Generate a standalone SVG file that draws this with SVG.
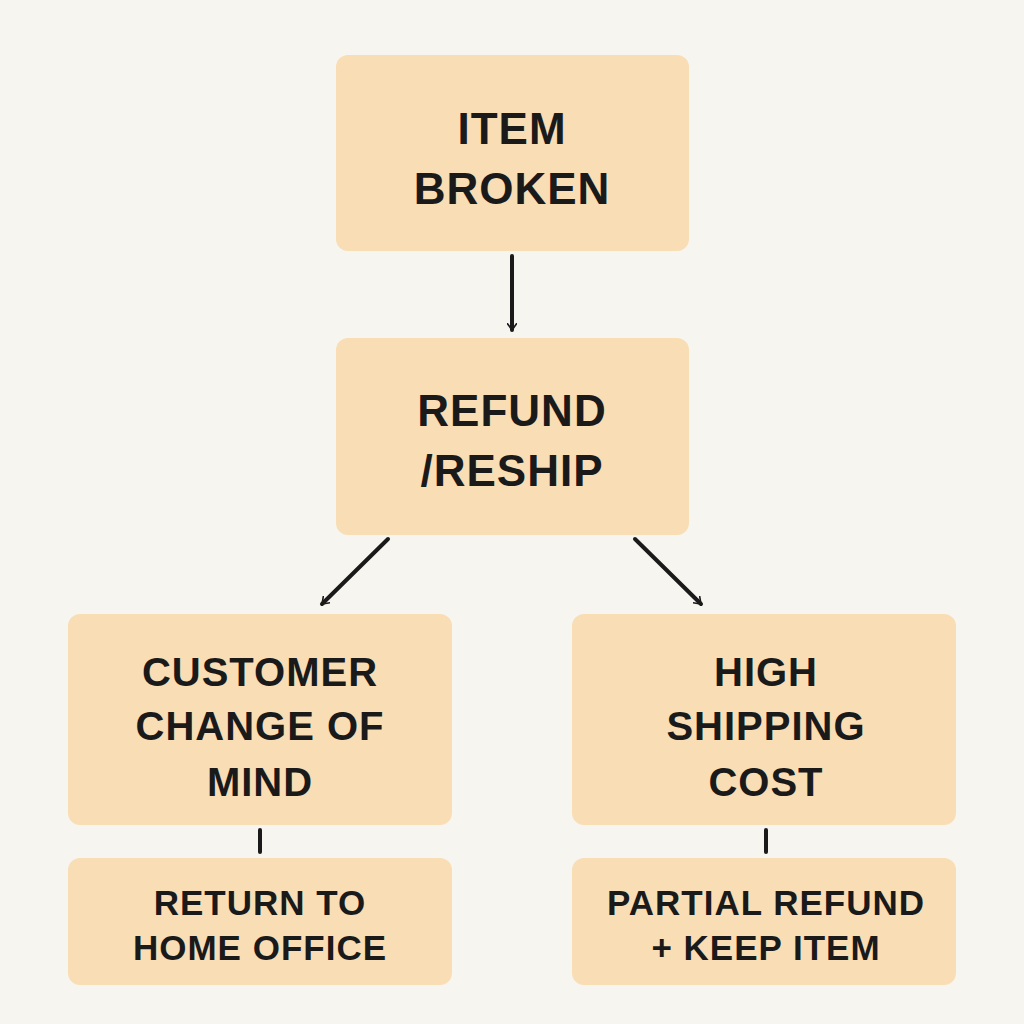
<svg xmlns="http://www.w3.org/2000/svg" width="1024" height="1024" viewBox="0 0 1024 1024">
<style>
.n{fill:#F9DDB4;}
.t{font-family:"Liberation Sans",Arial,sans-serif;font-weight:bold;fill:#1a1a1a;text-anchor:middle;letter-spacing:1px}
.big{font-size:44px}
.mid{font-size:40px}
.sm{font-size:35px}
.c{stroke:#1a1a1a;stroke-width:4;fill:none;stroke-linecap:round}
</style>
<defs><marker id="a" markerWidth="10" markerHeight="10" refX="7" refY="5" orient="auto" markerUnits="userSpaceOnUse" viewBox="0 0 10 10"><path d="M0,0 L7,5 L0,10" fill="none" stroke="#1a1a1a" stroke-width="1.6"/></marker></defs>
<rect width="1024" height="1024" fill="#F7F5F0"/>
<g id="n1"><rect class="n" x="336" y="55" width="353" height="196" rx="12"/><text class="t big" x="512" y="144">ITEM</text><text class="t big" x="512" y="204">BROKEN</text></g>
<g id="n2"><rect class="n" x="336" y="338" width="353" height="197" rx="12"/><text class="t big" x="512" y="426">REFUND</text><text class="t big" x="512" y="486">/RESHIP</text></g>
<g id="n3"><rect class="n" x="68" y="614" width="384" height="211" rx="12"/><text class="t mid" x="260" y="686">CUSTOMER</text><text class="t mid" x="260" y="740">CHANGE OF</text><text class="t mid" x="260" y="796">MIND</text></g>
<g id="n4"><rect class="n" x="572" y="614" width="384" height="211" rx="12"/><text class="t mid" x="766" y="686">HIGH</text><text class="t mid" x="766" y="740">SHIPPING</text><text class="t mid" x="766" y="796">COST</text></g>
<g id="n5"><rect class="n" x="68" y="858" width="384" height="127" rx="12"/><text class="t sm" x="260" y="915">RETURN TO</text><text class="t sm" x="260" y="960">HOME OFFICE</text></g>
<g id="n6"><rect class="n" x="572" y="858" width="384" height="127" rx="12"/><text class="t sm" x="766" y="915">PARTIAL REFUND</text><text class="t sm" x="766" y="960">+ KEEP ITEM</text></g>
<g id="connectors">
<line class="c" x1="512" y1="256" x2="512" y2="330" marker-end="url(#a)"/>
<line class="c" x1="388" y1="539" x2="322" y2="604" marker-end="url(#a)"/>
<line class="c" x1="635" y1="539" x2="701" y2="604" marker-end="url(#a)"/>
<line class="c" x1="260" y1="830" x2="260" y2="852"/>
<line class="c" x1="766" y1="830" x2="766" y2="852"/>
</g>
</svg>
